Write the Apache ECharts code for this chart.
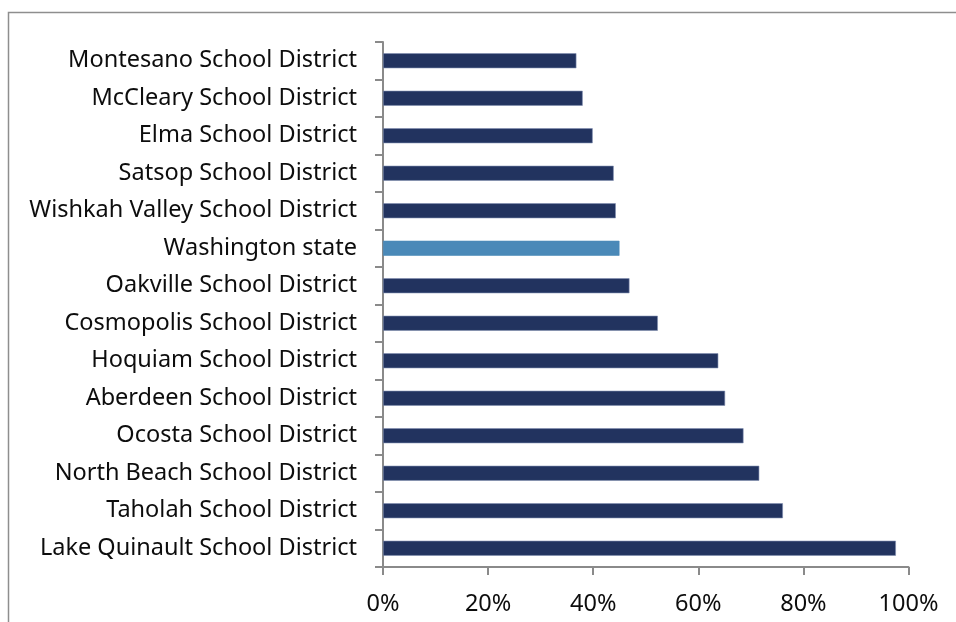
<!DOCTYPE html>
<html>
<head>
<meta charset="utf-8">
<script src="https://cdn.jsdelivr.net/npm/echarts@6/dist/echarts.min.js"></script>
<style>html,body{margin:0;padding:0;background:#fff}#c{width:956px;height:622px}</style>
</head>
<body>
<div id="c"></div>
<script>
const categories = [
  "Montesano School District",
  "McCleary School District",
  "Elma School District",
  "Satsop School District",
  "Wishkah Valley School District",
  "Washington state",
  "Oakville School District",
  "Cosmopolis School District",
  "Hoquiam School District",
  "Aberdeen School District",
  "Ocosta School District",
  "North Beach School District",
  "Taholah School District",
  "Lake Quinault School District"
];
const values = [36.8, 38.0, 39.9, 43.9, 44.3, 45.0, 46.9, 52.3, 63.8, 65.1, 68.6, 71.6, 76.1, 97.6];
const highlight = "Washington state";
const xTicks = [0, 20, 40, 60, 80, 100];

const darkColor = '#22335f';
const lightColor = '#4a89b8';
const fontFamily = '"Noto Sans", sans-serif';

const chart = echarts.init(document.getElementById('c'), null, {renderer: 'canvas'});
chart.setOption({
  animation: false,
  backgroundColor: '#ffffff',
  graphic: [{
    type: 'rect',
    shape: {x: 8.5, y: 12.5, width: 1000, height: 700},
    style: {fill: 'none', stroke: '#8e8e8e', lineWidth: 1.5},
    silent: true
  }],
  grid: {left: 383, right: 47.5, top: 42, bottom: 55, containLabel: false},
  xAxis: {
    type: 'value',
    min: xTicks[0],
    max: xTicks[xTicks.length - 1],
    interval: 20,
    splitLine: {show: false},
    axisLine: {show: true, lineStyle: {color: '#8a8a8a', width: 2}},
    axisTick: {show: true, inside: false, length: 8, lineStyle: {color: '#8a8a8a', width: 2}},
    axisLabel: {
      margin: 25,
      color: '#0d0d0d',
      fontFamily: fontFamily,
      fontSize: 23.5,
      formatter: v => v + '%'
    }
  },
  yAxis: {
    type: 'category',
    data: categories,
    inverse: true,
    boundaryGap: true,
    axisLine: {show: true, lineStyle: {color: '#8a8a8a', width: 2}},
    axisTick: {show: true, inside: false, length: 8, alignWithLabel: false, lineStyle: {color: '#8a8a8a', width: 2}},
    axisLabel: {
      margin: 26,
      color: '#0d0d0d',
      fontFamily: fontFamily,
      fontSize: 23.5
    }
  },
  series: [{
    type: 'bar',
    barWidth: 15,
    data: values.map((v, i) => ({
      value: v,
      itemStyle: {
        color: categories[i] === highlight ? lightColor : darkColor,
        borderColor: categories[i] === highlight ? lightColor : '#7f8db0',
        borderWidth: 0.6
      }
    }))
  }]
});
</script>
</body>
</html>
